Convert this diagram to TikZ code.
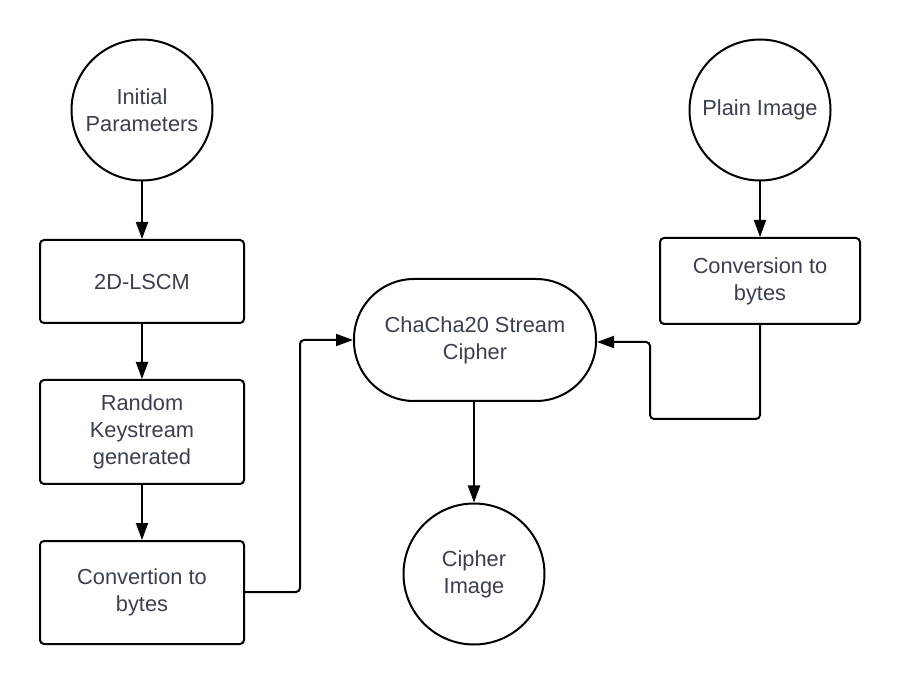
\documentclass[tikz,border=0pt]{standalone}
\usepackage{fontspec}
\setmainfont{Liberation Sans}
\usetikzlibrary{arrows.meta}
\definecolor{txt}{RGB}{58,65,76}
\tikzset{
  base/.style={draw=black, line width=2pt, fill=white, text=txt, align=center,
    font=\fontsize{21.8}{27}\selectfont, inner sep=0pt},
  circ/.style={base, circle, minimum size=141pt},
  boxn/.style={base, rectangle, rounded corners=4pt},
  stad/.style={base, rectangle, rounded corners=60pt, minimum width=242pt, minimum height=122pt},
  conn/.style={draw=black, line width=2pt, rounded corners=4pt,
    -{Triangle[length=17pt,width=12pt]}}
}
\begin{document}
\begin{tikzpicture}[x=1pt,y=-1pt]
\useasboundingbox (0,0) rectangle (900,684);
\node[circ] (init) at (142,110) {Initial\\Parameters};
\node[boxn, minimum width=204pt, minimum height=83pt] (lscm) at (142,281.5) {2D-LSCM};
\node[boxn, minimum width=204pt, minimum height=104pt] (rand) at (142,432) {Random\\Keystream\\generated};
\node[boxn, minimum width=204pt, minimum height=103pt] (conv1) at (142,592.5) {Convertion to\\bytes};
\node[stad] (cha) at (475,340) {ChaCha20 Stream\\Cipher};
\node[circ] (ciph) at (474,574) {Cipher\\Image};
\node[circ] (plain) at (760,110) {Plain Image};
\node[boxn, minimum width=200pt, minimum height=86pt] (conv2) at (760,281) {Conversion to\\bytes};
\coordinate (c1) at (300,592);
\coordinate (c2) at (650,419);
\draw[conn] (init.south) -- (lscm.north);
\draw[conn] (lscm.south) -- (rand.north);
\draw[conn] (rand.south) -- (conv1.north);
\draw[conn] (cha.south -| ciph.north) -- (ciph.north);
\draw[conn] (plain.south) -- (conv2.north);
\draw[conn] (conv1.east |- c1) -- (c1) |- (cha.west);
\draw[conn] (conv2.south) |- (c2) -- (c2 |- 342,342) -- (cha.east |- 342,342);
\end{tikzpicture}
\end{document}
